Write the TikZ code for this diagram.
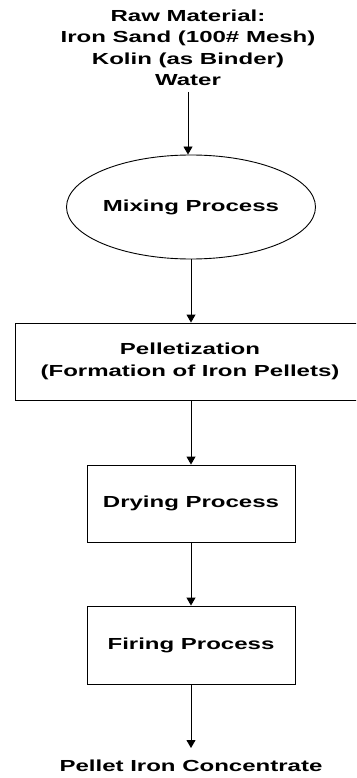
\documentclass[tikz,border=0pt]{standalone}
\usepackage{fontspec}
\setmainfont{Liberation Sans}
\newfontfamily\wfont[FakeStretch=1.5]{Liberation Sans}
\usetikzlibrary{shapes.geometric,arrows.meta}
\begin{document}
\begin{tikzpicture}[x=1pt,y=-1pt,
  lbl/.style={font=\wfont\bfseries\fontsize{16}{21.5}\selectfont,align=center},
  procbox/.style={draw,line width=0.9pt,rectangle,inner sep=0pt,lbl},
  ovalbox/.style={draw,line width=0.9pt,ellipse,inner sep=0pt,lbl},
  arr/.style={draw,line width=0.9pt,-{Triangle[width=9pt,length=8pt]}}]
\useasboundingbox (0,0) rectangle (356,778);
\clip (0,0) rectangle (356,778);
\node[lbl,anchor=south,inner xsep=0pt,inner ysep=6pt] (raw) at (188,92)
  {Raw Material:\\Iron Sand (100\# Mesh)\\Kolin (as Binder)\\Water};
\node[ovalbox,minimum width=208pt,minimum height=104pt] (mix) at (191,207) {Mixing Process};
\node[procbox,minimum width=350pt,minimum height=77pt] (pel) at (190,361.5)
  {Pelletization\\(Formation of Iron Pellets)};
\node[procbox,minimum width=208pt,minimum height=77pt] (dry) at (191,503.5) {Drying Process};
\node[procbox,minimum width=208pt,minimum height=78pt] (fire) at (191,645) {Firing Process};
\node[lbl,anchor=north,inner xsep=0pt,inner ysep=12pt] (out) at (191,748) {Pellet Iron Concentrate};
\draw[arr] (raw.south) -- (raw.south |- mix.north);
\draw[arr] (mix.south) -- (pel.north -| mix.south);
\draw[arr] (pel.south -| dry.north) -- (dry.north);
\draw[arr] (dry.south) -- (fire.north);
\draw[arr] (fire.south) -- (out.north);
\end{tikzpicture}
\end{document}
